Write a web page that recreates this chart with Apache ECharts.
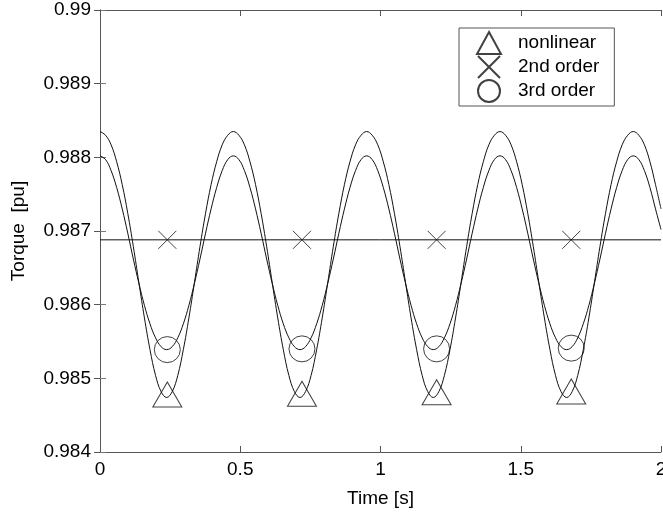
<!DOCTYPE html>
<html>
<head>
<meta charset="utf-8">
<script src="https://cdn.jsdelivr.net/npm/echarts@6/dist/echarts.min.js"></script>
<style>
  html, body { margin: 0; padding: 0; background: #fff; }
  #torqueChart { width: 663px; height: 513px; }
</style>
</head>
<body>
<div id="torqueChart"></div>
<script>
// time samples [s] (about 24 per oscillation period)
const timeS = [0, 0.0198, 0.0396, 0.0594, 0.0792, 0.0990, 0.1188, 0.1386, 0.1584, 0.1782, 0.1980, 0.2178,
  0.2376, 0.2575, 0.2773, 0.2971, 0.3169, 0.3367, 0.3565, 0.3763, 0.3961, 0.4159, 0.4357, 0.4555,
  0.4753, 0.4951, 0.5149, 0.5347, 0.5545, 0.5743, 0.5941, 0.6139, 0.6337, 0.6535, 0.6733, 0.6931,
  0.7129, 0.7327, 0.7526, 0.7724, 0.7922, 0.8120, 0.8318, 0.8516, 0.8714, 0.8912, 0.9110, 0.9308,
  0.9506, 0.9704, 0.9902, 1.0100, 1.0298, 1.0496, 1.0694, 1.0892, 1.1090, 1.1288, 1.1486, 1.1684,
  1.1882, 1.2080, 1.2278, 1.2477, 1.2675, 1.2873, 1.3071, 1.3269, 1.3467, 1.3665, 1.3863, 1.4061,
  1.4259, 1.4457, 1.4655, 1.4853, 1.5051, 1.5249, 1.5447, 1.5645, 1.5843, 1.6041, 1.6239, 1.6437,
  1.6635, 1.6833, 1.7031, 1.7229, 1.7428, 1.7626, 1.7824, 1.8022, 1.8220, 1.8418, 1.8616, 1.8814,
  1.9012, 1.9210, 1.9408, 1.9606, 1.9804, 2.0];

// torque [pu]
const nonlinear = [
  0.98835, 0.98830, 0.98817, 0.98794, 0.98763, 0.98724, 0.98679, 0.98630, 0.98582, 0.98539, 0.98504, 0.98482,
  0.98474, 0.98482, 0.98504, 0.98539, 0.98582, 0.98630, 0.98679, 0.98724, 0.98763, 0.98794, 0.98817, 0.98830,
  0.98835, 0.98830, 0.98817, 0.98794, 0.98763, 0.98724, 0.98679, 0.98630, 0.98582, 0.98539, 0.98504, 0.98482,
  0.98474, 0.98482, 0.98504, 0.98539, 0.98582, 0.98630, 0.98679, 0.98724, 0.98763, 0.98794, 0.98817, 0.98830,
  0.98835, 0.98830, 0.98817, 0.98794, 0.98763, 0.98724, 0.98679, 0.98630, 0.98582, 0.98539, 0.98504, 0.98482,
  0.98474, 0.98482, 0.98504, 0.98539, 0.98582, 0.98630, 0.98679, 0.98724, 0.98763, 0.98794, 0.98817, 0.98830,
  0.98835, 0.98830, 0.98817, 0.98794, 0.98763, 0.98724, 0.98679, 0.98630, 0.98582, 0.98539, 0.98504, 0.98482,
  0.98474, 0.98482, 0.98504, 0.98539, 0.98582, 0.98630, 0.98679, 0.98724, 0.98763, 0.98794, 0.98817, 0.98830,
  0.98835, 0.98830, 0.98817, 0.98794, 0.98763, 0.98730];
const thirdOrder = [
  0.98802, 0.98797, 0.98782, 0.98759, 0.98730, 0.98697, 0.98662, 0.98629, 0.98599, 0.98574, 0.98555, 0.98543,
  0.98539, 0.98543, 0.98555, 0.98574, 0.98599, 0.98629, 0.98662, 0.98697, 0.98730, 0.98759, 0.98782, 0.98797,
  0.98802, 0.98797, 0.98782, 0.98759, 0.98730, 0.98697, 0.98662, 0.98629, 0.98599, 0.98574, 0.98555, 0.98543,
  0.98539, 0.98543, 0.98555, 0.98574, 0.98599, 0.98629, 0.98662, 0.98697, 0.98730, 0.98759, 0.98782, 0.98797,
  0.98802, 0.98797, 0.98782, 0.98759, 0.98730, 0.98697, 0.98662, 0.98629, 0.98599, 0.98574, 0.98555, 0.98543,
  0.98539, 0.98543, 0.98555, 0.98574, 0.98599, 0.98629, 0.98662, 0.98697, 0.98730, 0.98759, 0.98782, 0.98797,
  0.98802, 0.98797, 0.98782, 0.98759, 0.98730, 0.98697, 0.98662, 0.98629, 0.98599, 0.98574, 0.98555, 0.98543,
  0.98539, 0.98543, 0.98555, 0.98574, 0.98599, 0.98629, 0.98662, 0.98697, 0.98730, 0.98759, 0.98782, 0.98797,
  0.98802, 0.98797, 0.98782, 0.98759, 0.98730, 0.98702];
const secondOrderTime = [0, 2];
const secondOrder = [0.98688, 0.98688];

// marker positions
const markerTime = [0.24, 0.72, 1.2, 1.68];
const nonlinearMarks = [0.98474, 0.98475, 0.98477, 0.98478];
const secondOrderMarks = [0.98688, 0.98688, 0.98688, 0.98688];
const thirdOrderMarks = [0.98539, 0.98540, 0.98540, 0.98541];

const xTicks = [0, 0.5, 1, 1.5, 2];
const yTicks = [0.984, 0.985, 0.986, 0.987, 0.988, 0.989, 0.99];

const pairs = (xs, ys) => xs.map((x, i) => [x, ys[i]]);

const ink = '#111';
const font = 'Liberation Sans, Arial, sans-serif';
const crossPath = 'path://M0,0L20,20M20,0L0,20';

const chart = echarts.init(document.getElementById('torqueChart'));

// mirrored axes on top / right: ticks only
const mirrorAxis = (pos) => ({
  type: 'value', position: pos,
  axisLine: { show: true, lineStyle: { color: '#555', width: 1 } },
  axisTick: { show: true, inside: true, length: 6, lineStyle: { color: '#555' } },
  axisLabel: { show: false },
  splitLine: { show: false }
});

chart.setOption({
  animation: false,
  backgroundColor: '#fff',
  grid: { left: 100, right: 2, top: 10, bottom: 61, containLabel: false, outerBoundsMode: 'none' },
  legend: {
    orient: 'vertical',
    left: 459, top: 28,
    padding: [3, 15, 3, 17],
    itemGap: 0,
    itemWidth: 24, itemHeight: 22,
    borderColor: '#555', borderWidth: 1,
    backgroundColor: '#fff',
    textStyle: { fontFamily: font, fontSize: 19, color: '#000', lineHeight: 22, padding: [0, 0, 0, 12] },
    data: ['nonlinear', '2nd order', '3rd order']
  },
  xAxis: [{
    type: 'value',
    min: xTicks[0], max: xTicks[xTicks.length - 1], interval: 0.5,
    name: 'Time [s]', nameLocation: 'middle', nameGap: 37,
    nameTextStyle: { fontFamily: font, fontSize: 19, color: '#000' },
    axisLine: { lineStyle: { color: '#555', width: 1 } },
    axisTick: { inside: true, length: 6, lineStyle: { color: '#555' } },
    axisLabel: { fontFamily: font, fontSize: 19, color: '#000', margin: 8 },
    splitLine: { show: false }
  }, Object.assign(mirrorAxis('top'), {
    min: xTicks[0], max: xTicks[xTicks.length - 1], interval: 0.5
  })],
  yAxis: [{
    type: 'value',
    min: yTicks[0], max: yTicks[yTicks.length - 1], interval: 0.001,
    name: 'Torque  [pu]', nameLocation: 'middle', nameGap: 72, nameRotate: 90,
    nameTextStyle: { fontFamily: font, fontSize: 19, color: '#000' },
    axisLine: { show: true, lineStyle: { color: '#999', width: 1 } },
    axisTick: { show: true, inside: true, length: 6, lineStyle: { color: '#777' } },
    axisLabel: { fontFamily: font, fontSize: 19, color: '#000', margin: 9 },
    splitLine: { show: false }
  }, Object.assign(mirrorAxis('right'), {
    min: yTicks[0], max: yTicks[yTicks.length - 1], interval: 0.001
  })],
  series: [
    {
      name: 'nonlinear curve', type: 'line', data: pairs(timeS, nonlinear),
      smooth: 0.4, showSymbol: false, silent: true,
      lineStyle: { color: ink, width: 1 }
    },
    {
      name: '3rd order curve', type: 'line', data: pairs(timeS, thirdOrder),
      smooth: 0.4, showSymbol: false, silent: true,
      lineStyle: { color: ink, width: 1 }
    },
    {
      name: '2nd order curve', type: 'line', data: pairs(secondOrderTime, secondOrder),
      showSymbol: false, silent: true,
      lineStyle: { color: ink, width: 1 }
    },
    {
      name: 'nonlinear', type: 'scatter', data: pairs(markerTime, nonlinearMarks),
      symbol: 'triangle', symbolSize: [29, 25], symbolOffset: [0, -3], z: 5,
      itemStyle: { color: 'rgba(0,0,0,0)', borderColor: ink, borderWidth: 1 }
    },
    {
      name: '2nd order', type: 'scatter', data: pairs(markerTime, secondOrderMarks),
      symbol: crossPath, symbolSize: 18, z: 5,
      itemStyle: { color: 'rgba(0,0,0,0)', borderColor: ink, borderWidth: 1 }
    },
    {
      name: '3rd order', type: 'scatter', data: pairs(markerTime, thirdOrderMarks),
      symbol: 'circle', symbolSize: 26, z: 5,
      itemStyle: { color: 'rgba(0,0,0,0)', borderColor: ink, borderWidth: 1 }
    }
  ]
});

window.addEventListener('resize', function () {
  chart.resize();
});
</script>
</body>
</html>
